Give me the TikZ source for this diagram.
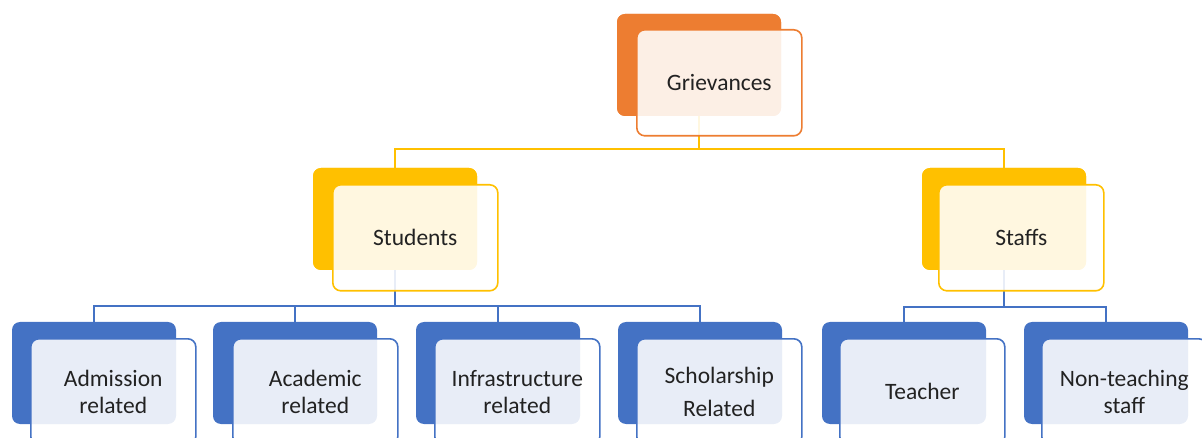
\documentclass[tikz,border=0pt]{standalone}
\usepackage{fontspec}
\setmainfont{Carlito}
\definecolor{orng}{HTML}{ED7D31}
\definecolor{gold}{HTML}{FFC000}
\definecolor{blu}{HTML}{4472C4}
\definecolor{txt}{HTML}{222222}
\tikzset{
  backbox/.style={draw=none, fill=#1, rounded corners=8pt, minimum width=164pt, minimum height=102pt, anchor=north west, inner sep=0pt, outer sep=0pt},
  frontbox/.style={draw=#1, line width=1.6pt, fill=white, fill opacity=0.88, text opacity=1, rounded corners=8pt, minimum width=165pt, minimum height=106pt, anchor=north west, inner sep=0pt, align=center, font=\fontsize{23.5}{27}\selectfont, text=txt},
  conn/.style={draw=#1, line width=1.6pt}
}
\begin{document}
\begin{tikzpicture}[x=1pt,y=-1pt]
\useasboundingbox (0,0) rectangle (1202,438);
\clip (0,0) rectangle (1202,438);
% back boxes
\node[backbox=orng] (gb) at (617,14) {};
\node[backbox=gold] (sb) at (313,168) {};
\node[backbox=gold] (fb) at (922,168) {};
\node[backbox=blu] (ab) at (12,322) {};
\node[backbox=blu] (cb) at (213,322) {};
\node[backbox=blu] (ib) at (416,322) {};
\node[backbox=blu] (hb) at (618,322) {};
\node[backbox=blu] (tb) at (822,322) {};
\node[backbox=blu] (nb) at (1024,322) {};
% connectors
\draw[conn=gold] (gb.south) -- ++(0,33) -| (sb.north);
\draw[conn=gold] (gb.south) -- ++(0,33) -| (fb.north);
\draw[conn=blu] (sb.south) -- ++(0,36) -| (ab.north);
\draw[conn=blu] (sb.south) -- ++(0,36) -| (cb.north);
\draw[conn=blu] (sb.south) -- ++(0,36) -| (ib.north);
\draw[conn=blu] (sb.south) -- ++(0,36) -| (hb.north);
\draw[conn=blu] (fb.south) -- ++(0,37) -| (tb.north);
\draw[conn=blu] (fb.south) -- ++(0,37) -| (nb.north);
% redraw back boxes over connector ends
\node[backbox=orng] at (617,14) {};
\node[backbox=gold] at (313,168) {};
\node[backbox=gold] at (922,168) {};
% front boxes
\node[frontbox=orng] (g) at (636,29) {Grievances};
\node[frontbox=gold] (s) at (332,184) {Students};
\node[frontbox=gold] (f) at (938,184) {Staffs};
\node[frontbox=blu] (a) at (30,338) {Admission\\related};
\node[frontbox=blu] (c) at (232,338) {Academic\\related};
\node[frontbox=blu] (i) at (434,338) {Infrastructure\\related};
\node[frontbox=blu] (h) at (636,338) {Scholarship\\[6pt]Related};
\node[frontbox=blu] (t) at (839,338) {Teacher};
\node[frontbox=blu] (n) at (1041,338) {Non-teaching\\staff};
\end{tikzpicture}
\end{document}
